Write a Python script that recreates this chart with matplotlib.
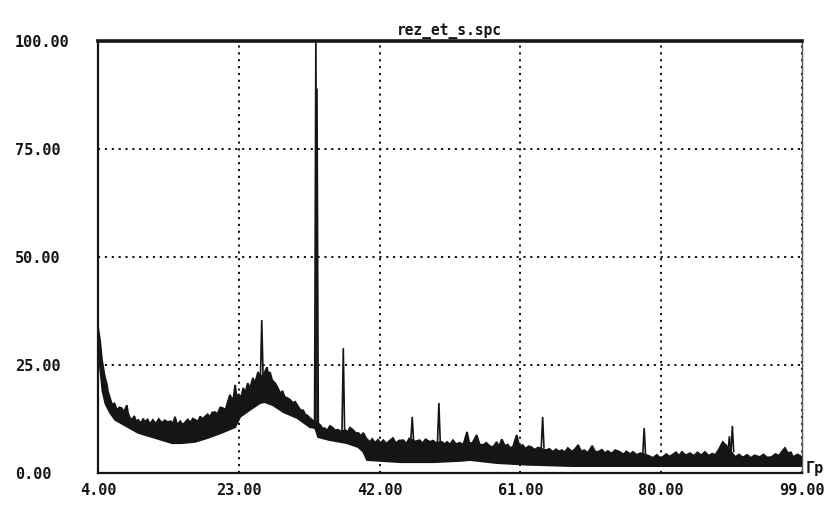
import matplotlib
matplotlib.use("Agg")
import matplotlib.pyplot as plt

# ---------------------------------------------------------------------------
# Data (2-theta, intensity %)
# ---------------------------------------------------------------------------
TITLE = "rez_et_s.spc"
X_TICKS = [4, 23, 42, 61, 80, 99]
Y_TICKS = [0, 25, 50, 75, 100]

# upper edge of the noisy band (small spikes included)
upper_x = [4.0, 4.27, 4.54, 4.8, 4.94, 5.2, 5.35, 5.6, 5.9, 6.2, 6.56, 6.9,
           7.2, 7.5, 7.9, 8.05, 8.3, 8.6, 8.9, 9.1, 9.4, 9.8, 10.1, 10.3,
           10.7, 11.0, 11.4, 11.8, 12.2, 12.6, 13.0, 13.4, 13.8, 14.1, 14.4,
           14.7, 15.1, 15.4, 15.7, 16.1, 16.5, 16.8, 17.1, 17.5, 17.8, 18.1,
           18.4, 18.8, 19.1, 19.4, 19.8, 20.1, 20.5, 20.9, 21.2, 21.5, 21.8,
           22.1, 22.3, 22.5, 22.7, 23.0, 23.3, 23.6, 23.9, 24.2, 24.5, 24.9,
           25.2, 25.6, 25.9, 26.4, 26.8, 27.0, 27.2, 27.5, 27.9, 28.2, 28.6,
           28.9, 29.2, 29.5, 29.9, 30.3, 30.6, 31.0, 31.3, 31.7, 32.0, 32.2,
           32.6, 32.9, 33.2, 33.7, 34.0, 34.3, 34.6, 34.9, 35.3, 35.6, 36.0,
           36.4, 36.8, 37.4, 37.7, 38.0, 38.4, 38.8, 39.1, 39.5, 39.8, 40.2,
           40.7, 41.0, 41.4, 41.8, 42.1, 42.5, 42.9, 43.3, 43.8, 44.2, 44.6,
           45.2, 45.6, 46.0, 46.8, 47.4, 47.8, 48.2, 48.8, 49.2, 49.6, 50.4,
           50.8, 51.1, 51.5, 51.9, 52.3, 52.8, 53.3, 53.8, 54.1, 54.5, 55.1,
           55.5, 56.0, 56.4, 56.9, 57.3, 57.8, 58.1, 58.5, 58.9, 59.3, 59.6,
           60.0, 60.5, 60.9, 61.3, 61.7, 62.1, 62.5, 62.9, 63.4, 64.5, 64.9,
           65.4, 65.8, 66.2, 66.6, 67.0, 67.4, 67.9, 68.3, 68.8, 69.2, 69.6,
           70.1, 70.7, 71.1, 71.5, 72.0, 72.4, 72.8, 73.3, 73.8, 74.4, 74.9,
           75.3, 75.8, 76.2, 76.7, 77.2, 78.3, 78.9, 79.4, 79.8, 80.2, 80.7,
           81.1, 81.5, 82.0, 82.4, 82.8, 83.3, 83.9, 84.4, 84.9, 85.4, 85.9,
           86.4, 86.9, 87.3, 87.8, 88.3, 88.7, 90.0, 90.5, 91.0, 91.6, 92.1,
           92.6, 93.3, 93.8, 94.3, 94.9, 95.4, 95.9, 96.3, 96.7, 97.1, 97.5,
           97.8, 98.4, 99.0]
upper_y = [33.8, 30.8, 26.2, 23.5, 22.2, 20.5, 18.8, 17.5, 15.7, 16.2, 14.6, 15.2,
           15.0, 14.2, 15.7, 13.9, 12.8, 12.3, 13.2, 12.0, 12.3, 11.5, 12.6, 11.8,
           12.4, 11.3, 12.3, 11.4, 12.5, 11.6, 12.2, 11.8, 12.0, 11.4, 13.0,
           11.1, 12.0, 11.2, 11.6, 12.4, 11.7, 12.6, 12.3, 12.0, 13.1, 12.5,
           13.0, 13.6, 12.9, 14.0, 14.1, 13.6, 15.2, 15.0, 14.6, 16.4, 18.1,
           17.0, 17.6, 20.4, 17.8, 18.2, 17.4, 19.7, 18.6, 20.8, 19.6, 22.0,
           20.9, 23.4, 22.2, 23.0, 24.5, 22.6, 23.4, 21.5, 20.8, 19.9, 18.5,
           18.9, 17.6, 17.4, 17.0, 16.2, 16.5, 15.4, 14.6, 14.5, 13.4, 13.4,
           12.7, 12.3, 11.8, 11.5, 11.1, 10.3, 10.4, 9.8, 10.9, 10.6, 9.9,
           10.0, 9.6, 9.9, 9.5, 10.5, 10.0, 9.2, 9.3, 8.6, 9.3, 8.0,
           7.2, 7.9, 7.0, 7.7, 6.9, 7.6, 6.8, 7.4, 8.1, 6.9, 7.5,
           7.6, 6.8, 8.0, 7.3, 7.6, 6.9, 7.8, 7.2, 7.5, 7.0, 7.2,
           6.7, 7.2, 6.6, 7.6, 6.7, 7.0, 6.6, 9.5, 7.0, 6.9, 8.8,
           6.6, 6.5, 7.0, 6.2, 6.0, 7.2, 6.1, 7.8, 6.3, 6.6, 5.8,
           6.1, 8.8, 6.0, 6.5, 5.6, 6.2, 6.0, 5.4, 5.9, 5.3, 5.6,
           4.9, 5.5, 5.0, 5.3, 4.8, 5.8, 5.0, 5.4, 6.5, 5.0, 5.3,
           4.7, 6.3, 4.9, 4.9, 5.4, 4.6, 5.1, 4.5, 5.3, 4.9, 4.3,
           5.0, 4.4, 4.9, 4.2, 4.6, 4.0, 3.5, 4.2, 3.6, 3.7, 4.4,
           3.8, 4.2, 4.8, 4.0, 4.9, 4.1, 4.6, 4.0, 4.8, 4.1, 4.9,
           4.0, 4.5, 4.2, 5.5, 7.2, 6.5, 3.7, 4.3, 3.6, 4.2, 3.5,
           4.1, 3.7, 4.3, 3.6, 3.7, 4.4, 4.0, 5.0, 5.8, 4.6, 4.8,
           3.7, 4.3, 3.7]

# lower edge of the noisy band
lower_x = [4.0, 4.3, 4.6, 5.0, 5.6, 6.3, 8.05, 9.4, 11.7, 14.0, 15.3, 17.1,
           18.8, 20.7, 22.5, 23.2, 24.5, 25.9, 26.5, 27.6, 29.0, 30.9, 32.6,
           33.3, 33.7, 35.3, 37.6, 39.1, 39.8, 40.3, 44.8, 49.2, 52.9, 54.2,
           57.8, 62.0, 68.0, 75.0, 85.0, 99.0]
lower_y = [31.0, 24.0, 19.0, 16.0, 14.0, 12.3, 10.6, 9.3, 8.1, 6.9, 6.9, 7.2,
           8.1, 9.3, 10.6, 13.0, 14.6, 16.2, 16.4, 15.7, 14.1, 12.7, 10.6,
           10.4, 8.3, 7.6, 6.9, 6.0, 4.9, 3.0, 2.5, 2.5, 2.8, 3.0,
           2.3, 1.9, 1.6, 1.6, 1.6, 1.6]

# sharp reflections: position, top, foot
peak_pos = [26.1, 33.4, 33.55, 37.1, 46.4, 50.0, 64.0, 77.7, 89.2, 89.6]
peak_top = [35.4, 101.0, 89.0, 28.9, 13.0, 16.2, 13.0, 10.4, 8.5, 10.9]
peak_foot = [22.0, 11.0, 11.0, 9.5, 7.6, 7.4, 6.0, 4.5, 5.0, 5.0]

INK = "#151515"
MONO = {"family": "DejaVu Sans Mono", "weight": "bold"}

fig = plt.figure(figsize=(8.36, 5.31), dpi=100)
ax = fig.add_axes([98 / 836, 58 / 531, 704 / 836, 432 / 531])

# noisy band as one polygon: upper edge left->right, lower edge right->left
poly_x = list(upper_x) + list(lower_x[::-1])
poly_y = list(upper_y) + list(lower_y[::-1])
ax.fill(poly_x, poly_y, facecolor=INK, edgecolor=INK, lw=1.3, zorder=3)

# peaks as thin spikes
hw = 0.18
for p, t, f in zip(peak_pos, peak_top, peak_foot):
    ax.plot([p - hw, p, p + hw], [f, t, f], color=INK, lw=1.2, zorder=4,
            solid_joinstyle="miter")

ax.set_xlim(4, 99)
ax.set_ylim(0, 100)
ax.set_xticks(X_TICKS)
ax.set_yticks(Y_TICKS)
ax.set_xticklabels([f"{v:.2f}" for v in X_TICKS], fontdict=MONO, fontsize=11)
ax.set_yticklabels([f"{v:.2f}" for v in Y_TICKS], fontdict=MONO, fontsize=11)
for lbl in ax.get_yticklabels():
    lbl.set_horizontalalignment("left")
ax.tick_params(axis="y", length=0, pad=60, colors=INK)
ax.tick_params(axis="x", length=0, pad=7, colors=INK)

ax.grid(True, color="black", linestyle=(0, (1.2, 2.6)), linewidth=1.3)
ax.set_axisbelow(True)

ax.spines["left"].set_linewidth(1.6)
ax.spines["bottom"].set_linewidth(1.6)
ax.spines["top"].set_linewidth(2.6)
ax.spines["right"].set_linewidth(1.0)
ax.spines["right"].set_color("#555555")
for s in ("left", "bottom", "top"):
    ax.spines[s].set_color(INK)

fig.text(449 / 836, (531 - 35) / 531, TITLE, ha="center", va="baseline",
         fontsize=10.5, color=INK, **MONO)
fig.text(806 / 836, (531 - 469) / 531, "Гр", ha="left", va="center",
         fontsize=11, color=INK, **MONO)

fig.savefig("out.png", dpi=100, facecolor="white")
